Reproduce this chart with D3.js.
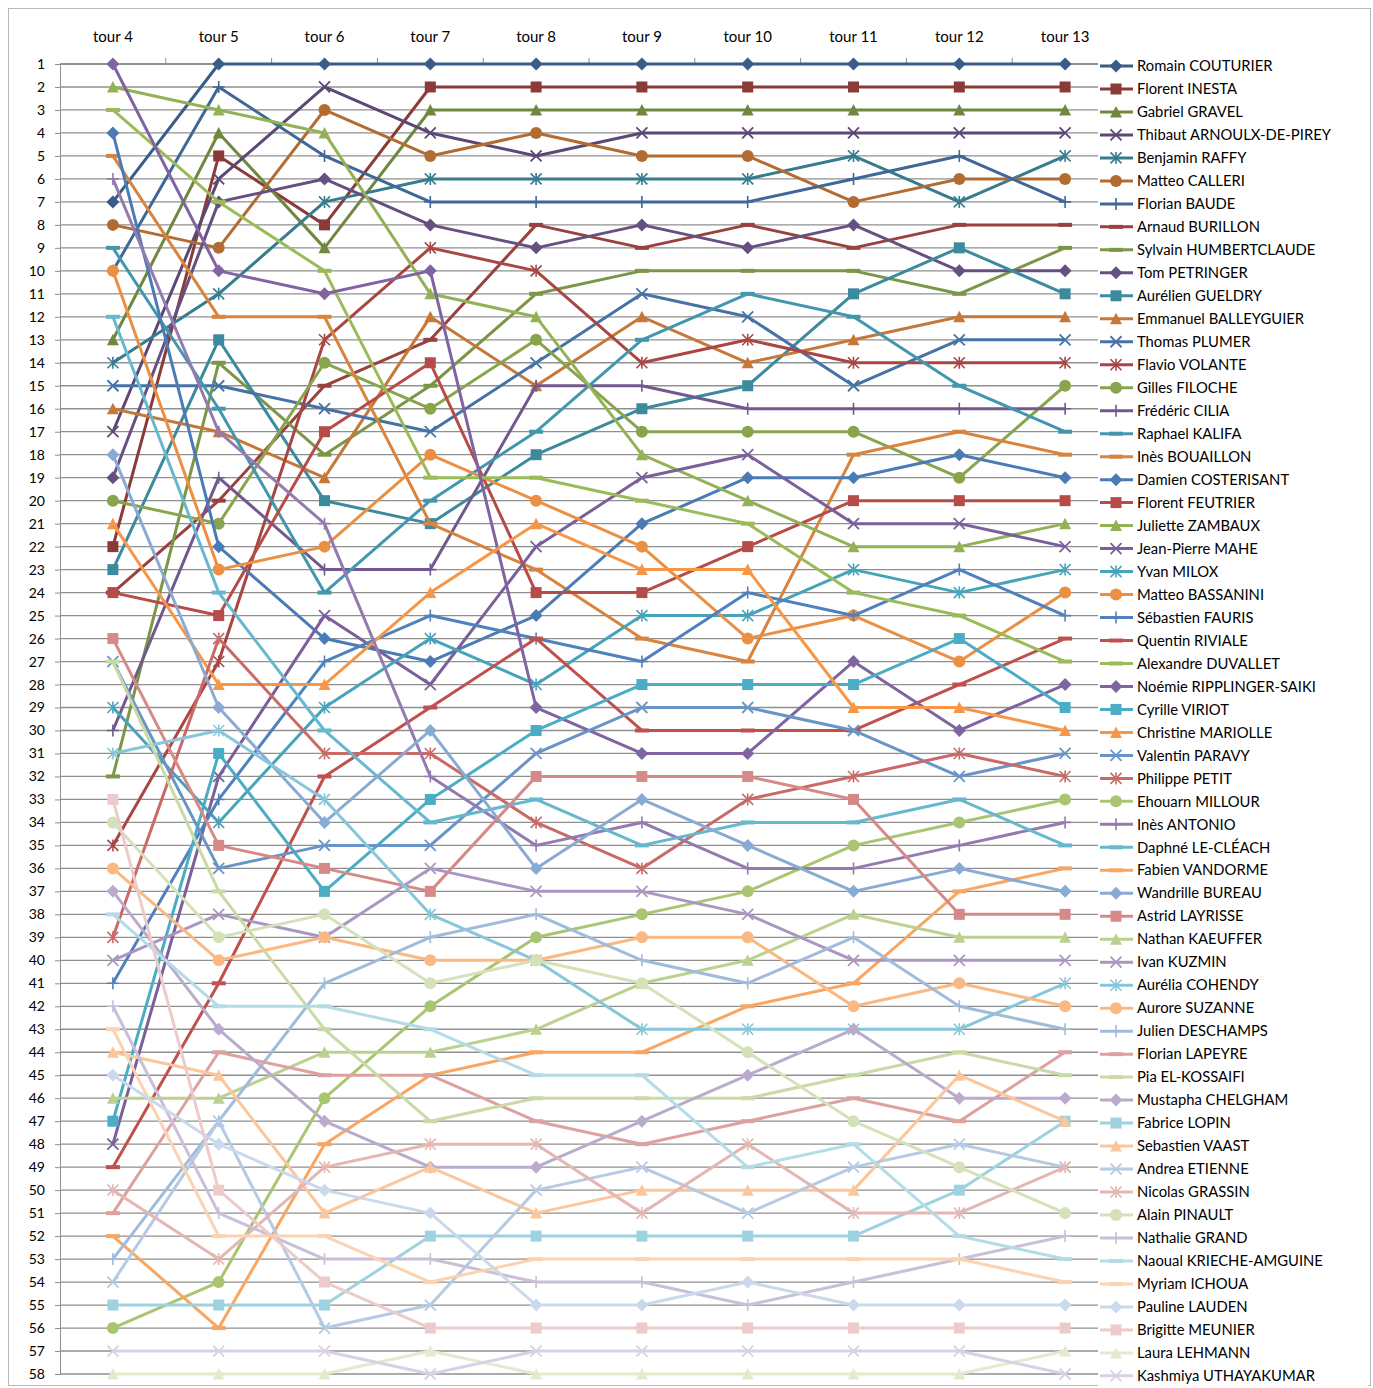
<!DOCTYPE html>
<html><head><meta charset="utf-8">
<script src="https://cdn.jsdelivr.net/npm/d3@7"></script>
<style>
body{margin:0;background:#fff}
svg{display:block}
text{font-family:Lato,"Liberation Sans",sans-serif;fill:#000}
</style>
</head><body>
<svg id="chart" width="1373" height="1388"></svg>
<script>
// ---------- DATA ----------
const tours = ["tour 4","tour 5","tour 6","tour 7","tour 8","tour 9","tour 10","tour 11","tour 12","tour 13"];
const players = ["Romain COUTURIER","Florent INESTA","Gabriel GRAVEL","Thibaut ARNOULX-DE-PIREY","Benjamin RAFFY","Matteo CALLERI","Florian BAUDE","Arnaud BURILLON","Sylvain HUMBERTCLAUDE","Tom PETRINGER","Aurélien GUELDRY","Emmanuel BALLEYGUIER","Thomas PLUMER","Flavio VOLANTE","Gilles FILOCHE","Frédéric CILIA","Raphael KALIFA","Inès BOUAILLON","Damien COSTERISANT","Florent FEUTRIER","Juliette ZAMBAUX","Jean-Pierre MAHE","Yvan MILOX","Matteo BASSANINI","Sébastien FAURIS","Quentin RIVIALE","Alexandre DUVALLET","Noémie RIPPLINGER-SAIKI","Cyrille VIRIOT","Christine MARIOLLE","Valentin PARAVY","Philippe PETIT","Ehouarn MILLOUR","Inès ANTONIO","Daphné LE-CLÉACH","Fabien VANDORME","Wandrille BUREAU","Astrid LAYRISSE","Nathan KAEUFFER","Ivan KUZMIN","Aurélia COHENDY","Aurore SUZANNE","Julien DESCHAMPS","Florian LAPEYRE","Pia EL-KOSSAIFI","Mustapha CHELGHAM","Fabrice LOPIN","Sebastien VAAST","Andrea ETIENNE","Nicolas GRASSIN","Alain PINAULT","Nathalie GRAND","Naoual KRIECHE-AMGUINE","Myriam ICHOUA","Pauline LAUDEN","Brigitte MEUNIER","Laura LEHMANN","Kashmiya UTHAYAKUMAR"];
const rankTicks = d3.range(1, 59);
// rank of each player (legend order) at each round
const tour4  = [7,22,13,17,14,8,10,24,32,19,23,16,15,35,20,30,9,5,4,24,2,48,29,10,41,49,3,1,47,21,27,39,56,6,12,52,18,26,46,40,31,36,53,51,27,37,55,44,54,50,34,42,38,43,45,33,58,57];
const tour5  = [1,5,4,6,11,9,2,20,14,7,13,17,15,27,21,19,16,12,22,25,3,32,34,23,33,41,7,10,31,28,36,26,54,17,24,56,29,35,46,38,30,40,47,44,37,43,55,45,47,53,39,51,42,52,48,50,58,57];
const tour6  = [1,8,9,2,7,3,5,15,18,6,20,19,16,13,14,23,24,12,26,17,4,25,29,22,27,32,10,11,37,28,35,31,46,21,30,48,34,36,44,39,33,39,41,45,43,47,55,51,56,49,38,53,42,52,50,54,58,57];
const tour7  = [1,2,3,4,6,5,7,13,15,8,21,12,17,9,16,23,20,21,27,14,11,28,26,18,25,29,19,10,33,24,35,31,42,32,34,45,30,37,44,36,38,40,39,45,47,49,52,49,55,48,41,53,43,54,51,56,57,58];
const tour8  = [1,2,3,5,6,4,7,8,11,9,18,15,14,10,13,15,17,23,25,24,12,22,28,20,26,26,19,29,30,21,31,34,39,35,33,44,36,32,43,37,40,40,38,47,46,49,52,51,50,48,40,54,45,53,55,56,58,57];
const tour9  = [1,2,3,4,6,5,7,9,10,8,16,12,11,14,17,15,13,26,21,24,18,19,25,22,27,30,20,31,28,23,29,36,38,34,35,44,33,32,41,37,43,39,40,48,46,47,52,50,49,51,41,54,45,53,55,56,58,57];
const tour10 = [1,2,3,4,6,5,7,8,10,9,15,14,12,13,17,16,11,27,19,22,20,18,25,26,24,30,21,31,28,23,29,33,37,36,34,42,35,32,40,38,43,39,41,47,46,45,52,50,51,48,44,55,49,53,54,56,58,57];
const tour11 = [1,2,3,4,5,7,6,9,10,8,11,13,15,14,17,16,12,18,19,20,22,21,23,25,25,30,24,27,28,29,30,32,35,36,34,41,37,33,38,40,43,42,39,46,45,43,52,50,49,51,47,54,48,53,55,56,58,57];
const tour12 = [1,2,3,4,7,6,5,8,11,10,9,12,13,14,19,16,15,17,18,20,22,21,24,27,23,28,25,30,26,29,32,31,34,35,33,37,36,38,39,40,43,41,42,47,44,46,50,45,48,51,49,53,52,53,55,56,58,57];
const tour13 = [1,2,3,4,5,6,7,8,9,10,11,12,13,14,15,16,17,18,19,20,21,22,23,24,25,26,27,28,29,30,31,32,33,34,35,36,37,38,39,40,41,42,43,44,45,46,47,47,49,49,51,52,53,54,55,56,57,58];
const roundRanks = [tour4,tour5,tour6,tour7,tour8,tour9,tour10,tour11,tour12,tour13];

// ---------- STYLE ----------
const accents = ["#4F81BD","#C0504D","#9BBB59","#8064A2","#4BACC6","#F79646"];
const levels = [{s:0.72},{s:0.80},{s:0.88},{s:0.95},{s:1},{t:0.15},{t:0.33},{t:0.46},{t:0.58},{t:0.70}];
const shapes = ["diamond","square","triangle","x","star","circle","plus","dash","dash"];
function seriesColor(i){
  const c = d3.rgb(accents[i%6]); const L = levels[Math.floor(i/6)];
  if (L.s !== undefined) return d3.rgb(c.r*L.s, c.g*L.s, c.b*L.s).formatHex();
  return d3.rgb(c.r+(255-c.r)*L.t, c.g+(255-c.g)*L.t, c.b+(255-c.b)*L.t).formatHex();
}
function drawMarker(g, shape, color){
  const h = 6;
  if (shape==="diamond") g.append("path").attr("d",`M0,${-h-0.5}L${h+0.5},0L0,${h+0.5}L${-h-0.5},0Z`).attr("fill",color);
  else if (shape==="square") g.append("rect").attr("x",-5.5).attr("y",-5.5).attr("width",11).attr("height",11).attr("fill",color);
  else if (shape==="triangle") g.append("path").attr("d",`M0,${-h}L${h},${h-0.5}L${-h},${h-0.5}Z`).attr("fill",color);
  else if (shape==="circle") g.append("circle").attr("r",h).attr("fill",color);
  else if (shape==="x") g.append("path").attr("d",`M${-h+0.5},${-h+0.5}L${h-0.5},${h-0.5}M${-h+0.5},${h-0.5}L${h-0.5},${-h+0.5}`).attr("stroke",color).attr("stroke-width",1.8).attr("fill","none");
  else if (shape==="star") g.append("path").attr("d",`M${-h+0.5},${-h+0.5}L${h-0.5},${h-0.5}M${-h+0.5},${h-0.5}L${h-0.5},${-h+0.5}M0,${-h}L0,${h}`).attr("stroke",color).attr("stroke-width",1.6).attr("fill","none");
  else if (shape==="plus") g.append("path").attr("d",`M${-h},0L${h},0M0,${-h}L0,${h}`).attr("stroke",color).attr("stroke-width",1.6).attr("fill","none");
  else if (shape==="dash") g.append("rect").attr("x",-7).attr("y",-2).attr("width",14).attr("height",4).attr("fill",color);
}

// ---------- CHART ----------
const svg = d3.select("#chart");
const W = 1373, H = 1388;
svg.append("rect").attr("x",0).attr("y",0).attr("width",W).attr("height",H).attr("fill","#fff");
svg.append("rect").attr("x",8.5).attr("y",8.5).attr("width",1362).attr("height",1377).attr("fill","none").attr("stroke","#b8b8b8").attr("stroke-width",1);

const x = d3.scaleBand().domain(tours).range([60,1118]);
const xc = t => x(t) + x.bandwidth()/2;
const y = d3.scaleLinear().domain([1,58]).range([64,1374]);

// gridlines
svg.append("g").selectAll("line").data(rankTicks).join("line")
  .attr("x1",60).attr("x2",1098).attr("y1",d=>y(d)).attr("y2",d=>y(d))
  .attr("stroke","#8f8f8f").attr("stroke-width",1.3);

// left axis
const yAxis = d3.axisLeft(y).tickValues(rankTicks).tickSize(5).tickPadding(10).tickFormat(d3.format("d"));
const gy = svg.append("g").attr("transform","translate(60,0)").call(yAxis);
gy.select(".domain").attr("stroke","#8f8f8f");
gy.selectAll(".tick line").attr("stroke","#8f8f8f");
gy.selectAll("text").style("font-size","14px").attr("fill","#000");

// top axis
const xAxis = d3.axisTop(x).tickSize(0).tickPadding(22);
const gx = svg.append("g").attr("transform","translate(0,64)").call(xAxis);
gx.select(".domain").remove();
gx.selectAll("text").style("font-size","15px").attr("fill","#000");
svg.append("line").attr("x1",60).attr("x2",1098).attr("y1",64).attr("y2",64).attr("stroke","#8a8a8a").attr("stroke-width",1.5);
svg.append("g").selectAll("line").data(tours.slice(1).concat(["end"])).join("line")
  .attr("x1",(d,i)=>60 + x.bandwidth()*(i+1)).attr("x2",(d,i)=>60 + x.bandwidth()*(i+1))
  .attr("y1",58).attr("y2",64).attr("stroke","#8a8a8a").attr("stroke-width",1)
  .attr("display",(d,i)=> (60 + x.bandwidth()*(i+1)) > 1098 ? "none" : null);

// series
const line = d3.line().x(d=>xc(d.t)).y(d=>y(d.r));
const series = players.map((name,i)=>({name,i,color:seriesColor(i),shape:shapes[i%9],
  pts: tours.map((t,k)=>({t, r: roundRanks[k][i]}))}));
const gs = svg.append("g");
series.forEach(s=>{
  const g = gs.append("g");
  g.append("path").attr("d",line(s.pts)).attr("fill","none").attr("stroke",s.color)
   .attr("stroke-width",3).attr("stroke-linejoin","round");
  s.pts.forEach(p=>{
    const m = g.append("g").attr("transform",`translate(${xc(p.t)},${y(p.r)})`);
    drawMarker(m, s.shape, s.color);
  });
});

// legend
const lg = svg.append("g");
lg.append("rect").attr("x",1098).attr("y",52).attr("width",270).attr("height",1334).attr("fill","#fff");
series.forEach((s,i)=>{
  const ly = 66 + i*22.98;
  const g = lg.append("g").attr("transform",`translate(0,${ly})`);
  g.append("line").attr("x1",1100).attr("x2",1133).attr("y1",0).attr("y2",0).attr("stroke",s.color).attr("stroke-width",3);
  const m = g.append("g").attr("transform","translate(1116,0)");
  drawMarker(m, s.shape, s.color);
  g.append("text").attr("x",1137).attr("y",0).attr("dy","0.35em").style("font-size","14.8px").text(s.name);
});
</script>
</body></html>
